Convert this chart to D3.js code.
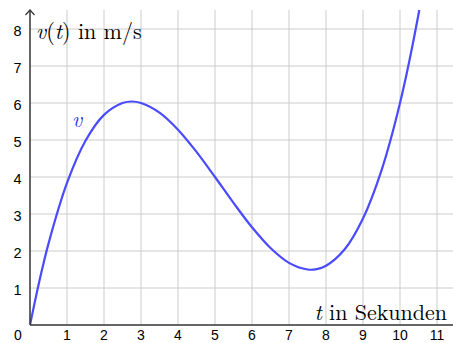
<!DOCTYPE html>
<html><head><meta charset="utf-8">
<script src="https://cdn.jsdelivr.net/npm/d3@7"></script>
<style>body{margin:0;background:#fff}svg{display:block}</style>
</head><body>
<script>
const tValues = [0,0.25,0.5,1,1.5,2,2.5,2.75,3,3.5,4,4.5,5,5.5,6,6.5,7,7.5,7.75,8,8.5,9,9.5,10,10.5,11];
const vValues = [0,1.17,2.20,3.84,4.98,5.68,6.00,6.04,6.00,5.74,5.28,4.68,4.00,3.30,2.64,2.08,1.68,1.50,1.51,1.60,2.04,2.88,4.18,6.00,8.40,11.44];
const xTicks = [0,1,2,3,4,5,6,7,8,9,10,11];
const yTicks = [1,2,3,4,5,6,7,8];

const W = 453, H = 343;
const svg = d3.select("body").append("svg").attr("width", W).attr("height", H);
const x = d3.scaleLinear().domain([0, 11]).range([30, 437]);
const y = d3.scaleLinear().domain([0, 8]).range([325, 29]);
const topY = 10;

// grid
const g = svg.append("g");
g.selectAll(".vg").data(xTicks.filter(d => d > 0)).join("line")
  .attr("x1", d => x(d)).attr("x2", d => x(d)).attr("y1", topY).attr("y2", y(0))
  .attr("stroke", "#cccccc").attr("stroke-width", 1);
g.selectAll(".hg").data(yTicks).join("line")
  .attr("x1", x(0)).attr("x2", W).attr("y1", d => y(d)).attr("y2", d => y(d))
  .attr("stroke", "#cccccc").attr("stroke-width", 1);

// curve
svg.append("clipPath").attr("id", "clip").append("rect")
  .attr("x", x(0)).attr("y", topY).attr("width", W - x(0)).attr("height", y(0) - topY);
const line = d3.line().x((d, i) => x(tValues[i])).y(d => y(d)).curve(d3.curveCatmullRom);
svg.append("path").attr("d", line(vValues)).attr("fill", "none")
  .attr("stroke", "#4a4aff").attr("stroke-width", 2.2).attr("clip-path", "url(#clip)");

// axes
svg.append("line").attr("x1", x(0)).attr("x2", W).attr("y1", y(0)).attr("y2", y(0))
  .attr("stroke", "#333").attr("stroke-width", 1.5);
svg.append("line").attr("x1", x(0)).attr("x2", x(0)).attr("y1", y(0)).attr("y2", topY)
  .attr("stroke", "#333").attr("stroke-width", 1.5);
svg.append("path").attr("d", `M${x(0)-4.5},${topY+5}L${x(0)},${topY}L${x(0)+4.5},${topY+5}`)
  .attr("fill", "none").attr("stroke", "#333").attr("stroke-width", 1.2);

// tick labels
const tf = "'Liberation Sans', Arial, sans-serif";
svg.selectAll(".yl").data(yTicks).join("text")
  .attr("x", 17.5).attr("y", d => y(d) + 7).attr("text-anchor", "middle")
  .attr("font-family", tf).attr("font-size", 14.5).attr("fill", "#000").text(d => d);
svg.selectAll(".xl").data(xTicks).join("text")
  .attr("x", d => d === 0 ? 18 : x(d)).attr("y", 339.5).attr("text-anchor", "middle")
  .attr("font-family", tf).attr("font-size", 14).attr("fill", "#000").text(d => d);

// titles
const sf = "'Latin Modern Roman','CMU Serif','Liberation Serif','Times New Roman',serif";
const yt = svg.append("text").attr("x", 36).attr("y", 39).attr("font-family", sf).attr("font-size", 22).attr("fill", "#000");
yt.append("tspan").attr("font-style", "italic").text("v");
yt.append("tspan").text("(");
yt.append("tspan").attr("font-style", "italic").text("t");
yt.append("tspan").text(") in m/s");

const xt = svg.append("text").attr("x", 447).attr("y", 320).attr("text-anchor", "end").attr("font-family", sf).attr("font-size", 22).attr("fill", "#000");
xt.append("tspan").attr("font-style", "italic").text("t");
xt.append("tspan").text(" in Sekunden");

svg.append("text").attr("x", 72).attr("y", 127).attr("font-family", sf).attr("font-style", "italic")
  .attr("font-size", 22).attr("fill", "#2f2fee").text("v");
</script>
</body></html>
